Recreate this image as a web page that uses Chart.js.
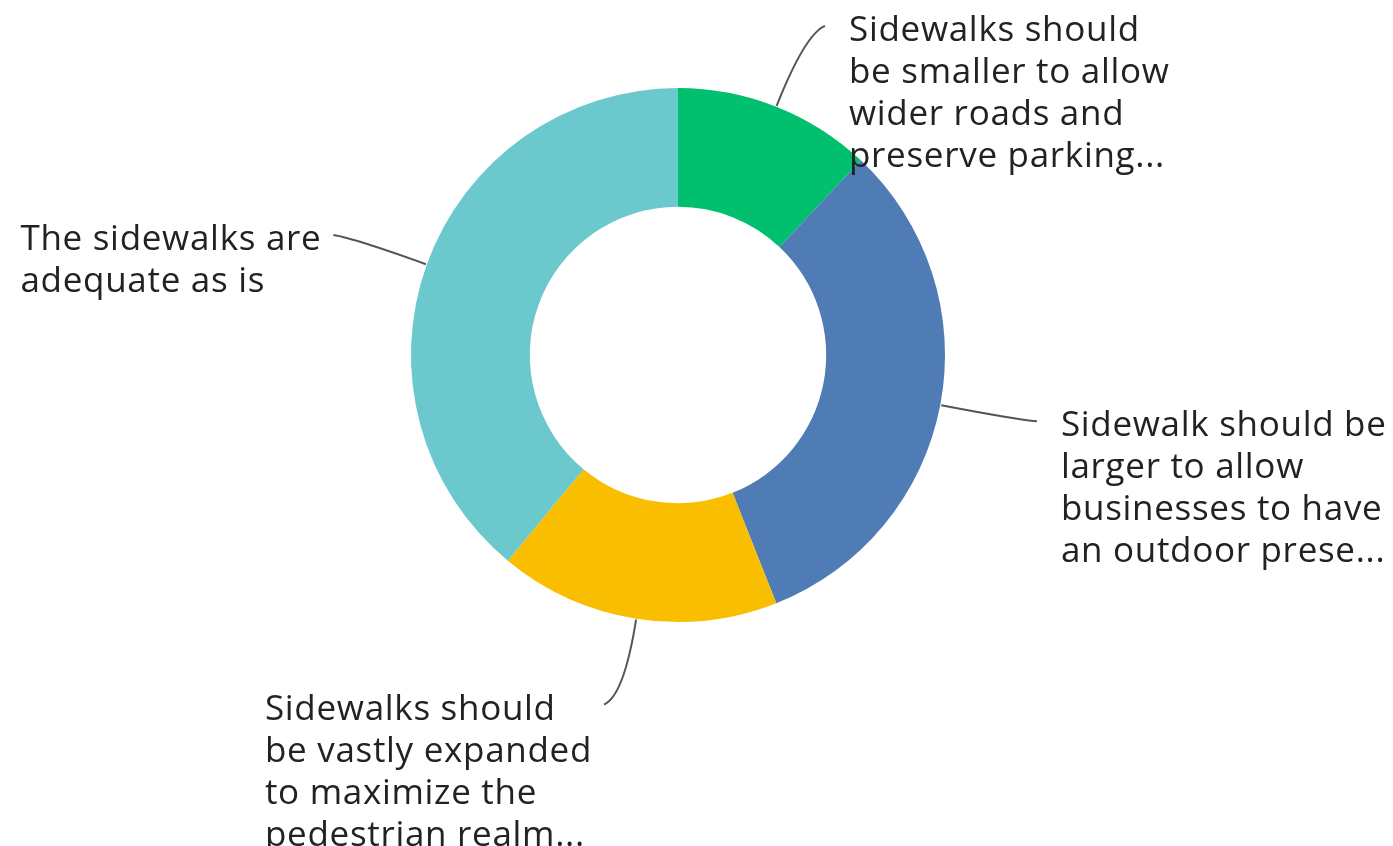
<!DOCTYPE html>
<html>
<head>
<meta charset="utf-8">
<script src="https://cdn.jsdelivr.net/npm/chart.js@4"></script>
<style>
  html, body { margin: 0; padding: 0; background: #fff; }
  #wrap { width: 1393px; height: 846px; }
</style>
</head>
<body>
<div id="wrap"><canvas id="sidewalkChart" width="1393" height="846"></canvas></div>
<script>
// answer options, already wrapped the way they are shown
const labelLines = [
    ['Sidewalks should', 'be smaller to allow', 'wider roads and', 'preserve parking...'],
    ['Sidewalk should be', 'larger to allow', 'businesses to have', 'an outdoor prese...'],
    ['Sidewalks should', 'be vastly expanded', 'to maximize the', 'pedestrian realm...'],
    ['The sidewalks are', 'adequate as is']
];
const categories = labelLines.map(l => l.join(' '));
const shares = [12, 32, 17, 39];
const colors = ['#00bf6f', '#507cb6', '#f9be00', '#6bc8cd'];

const FONT = '500 35px "Open Sans", Roboto, sans-serif';

// leader lines + wrapped labels around the ring
const calloutPlugin = {
    id: 'callouts',
    afterDraw(chart) {
        const ctx = chart.ctx;
        const arcs = chart.getDatasetMeta(0).data;
        ctx.save();
        ctx.font = FONT;
        ctx.letterSpacing = '0.7px';
        ctx.textBaseline = 'middle';
        arcs.forEach((arc, i) => {
            const p = arc.getProps(['x', 'y', 'startAngle', 'endAngle', 'outerRadius']);
            const mid = (p.startAngle + p.endAngle) / 2;
            const cos = Math.cos(mid), sin = Math.sin(mid);
            const side = cos >= 0 ? 1 : -1;
            const r0 = p.outerRadius + 1;
            const r1 = p.outerRadius + 78;
            const sx = p.x + r0 * cos, sy = p.y + r0 * sin;
            const cx = p.x + r1 * cos, cy = p.y + r1 * sin;
            const ex = cx + side * 20, ey = cy + sin * 9;

            ctx.strokeStyle = '#555';
            ctx.lineWidth = 2;
            ctx.beginPath();
            ctx.moveTo(sx, sy);
            ctx.quadraticCurveTo(cx, cy, ex, ey);
            ctx.stroke();

            const lines = labelLines[i];
            const w = Math.max(...lines.map(t => ctx.measureText(t).width));
            const left = side > 0 ? ex + 24 : ex - 12 - w;
            ctx.fillStyle = '#222';
            ctx.textAlign = 'left';
            lines.forEach((t, k) => ctx.fillText(t, left, ey + 5 + k * 42));
        });
        ctx.restore();
    }
};

new Chart(document.getElementById('sidewalkChart'), {
    type: 'doughnut',
    data: {
        labels: categories,
        datasets: [{
            data: shares,
            backgroundColor: colors,
            borderWidth: 0
        }]
    },
    options: {
        responsive: false,
        animation: false,
        cutout: '55.5%',
        layout: { padding: { left: 411, right: 448, top: 88, bottom: 224 } },
        plugins: {
            legend: { display: false },
            tooltip: { enabled: false }
        }
    },
    plugins: [calloutPlugin]
});
</script>
</body>
</html>
